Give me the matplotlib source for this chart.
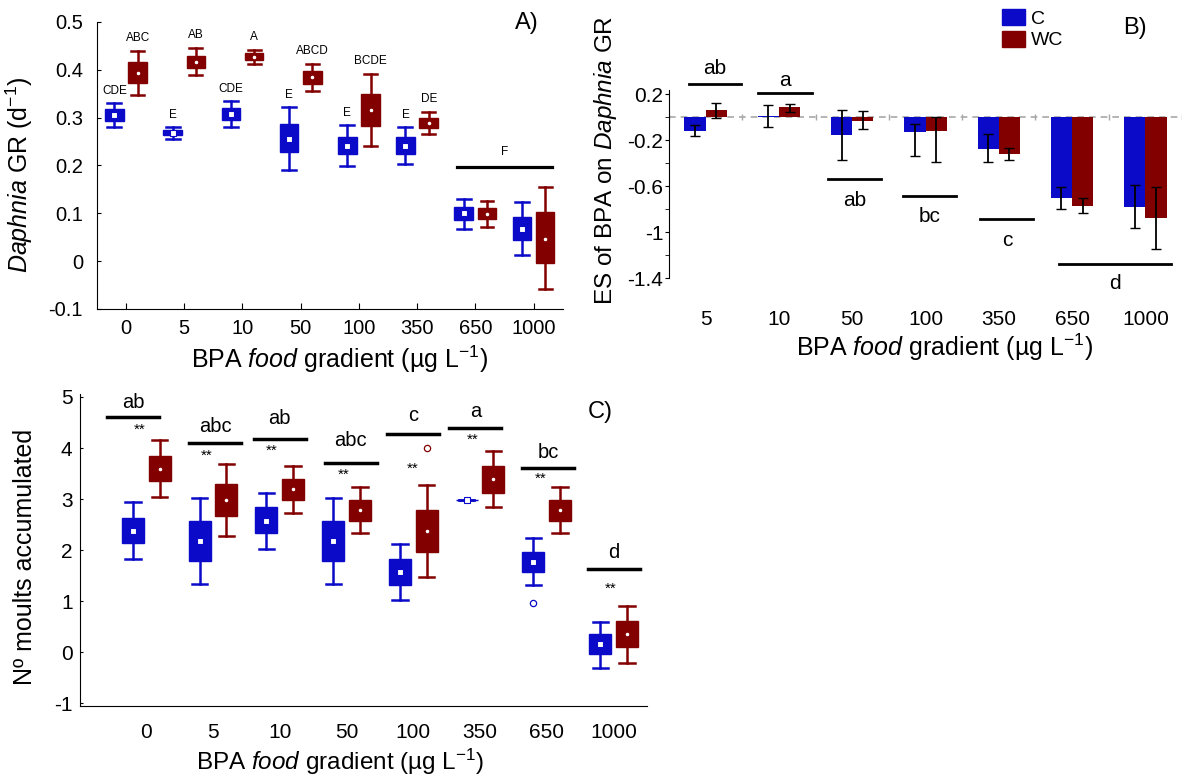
import numpy as np
import matplotlib
matplotlib.use("Agg")
import matplotlib.pyplot as plt
from matplotlib.patches import Patch

plt.rcParams['font.family'] = ['Liberation Sans', 'DejaVu Sans']
plt.rcParams['mathtext.fontset'] = 'custom'
plt.rcParams['mathtext.rm'] = 'Liberation Sans'
plt.rcParams['mathtext.it'] = 'Liberation Sans:italic'
plt.rcParams['axes.unicode_minus'] = False

azul = '#0a0ac8'
rojo = '#820000'

# ─────────────────────────────────────────────
# Datos panel A (tasa de crecimiento)
# ─────────────────────────────────────────────
conc = ['0', '5', '10', '50', '100', '350', '650', '1000']

a_c_media = [0.305, 0.268, 0.307, 0.256, 0.241, 0.240, 0.100, 0.068]
a_c_q1 = [0.293, 0.263, 0.295, 0.228, 0.224, 0.224, 0.085, 0.044]
a_c_q3 = [0.317, 0.274, 0.320, 0.286, 0.260, 0.259, 0.113, 0.093]
a_c_wlo = [0.280, 0.256, 0.280, 0.190, 0.199, 0.203, 0.066, 0.013]
a_c_whi = [0.330, 0.281, 0.335, 0.323, 0.285, 0.280, 0.130, 0.124]

a_wc_media = [0.394, 0.416, 0.427, 0.384, 0.316, 0.288, 0.098, 0.047]
a_wc_q1 = [0.373, 0.403, 0.420, 0.370, 0.282, 0.279, 0.087, -0.005]
a_wc_q3 = [0.416, 0.428, 0.434, 0.397, 0.349, 0.298, 0.110, 0.103]
a_wc_wlo = [0.348, 0.388, 0.412, 0.355, 0.240, 0.265, 0.072, -0.058]
a_wc_whi = [0.440, 0.446, 0.442, 0.412, 0.392, 0.311, 0.125, 0.154]

a_letras_c = ['CDE', 'E', 'CDE', 'E', 'E', 'E', '', '']
a_letras_wc = ['ABC', 'AB', 'A', 'ABCD', 'BCDE', 'DE', '', '']
a_f_x = [5.68, 7.32]
a_f_y = 0.197

# ─────────────────────────────────────────────
# Datos panel B (effect size)
# ─────────────────────────────────────────────
conc_b = ['5', '10', '50', '100', '350', '650', '1000']
b_c = [-0.119, 0.015, -0.154, -0.128, -0.278, -0.699, -0.777]
b_c_hi = [-0.067, 0.104, 0.064, -0.061, -0.148, -0.603, -0.588]
b_c_lo = [-0.162, -0.081, -0.371, -0.336, -0.391, -0.797, -0.957]
b_wc = [0.064, 0.087, -0.029, -0.122, -0.322, -0.768, -0.878]
b_wc_hi = [0.128, 0.119, 0.055, 0.0, -0.264, -0.699, -0.603]
b_wc_lo = [-0.009, 0.049, -0.101, -0.391, -0.368, -0.829, -1.145]

b_letras = ['ab', 'a', 'ab', 'bc', 'c', 'd']
b_linea_x0 = [-0.23, 0.71, 1.675, 2.69, 3.75, 4.82]
b_linea_x1 = [0.48, 1.45, 2.39, 3.41, 4.47, 6.35]
b_linea_y = [0.287, 0.214, -0.539, -0.684, -0.887, -1.27]
b_letra_y = [0.426, 0.325, -0.719, -0.858, -1.072, -1.44]

# ─────────────────────────────────────────────
# Datos panel C (mudas acumuladas)
# ─────────────────────────────────────────────
c_c_media = [2.38, 2.18, 2.57, 2.18, 1.57, 2.98, 1.77, 0.16]
c_c_q1 = [2.14, 1.79, 2.33, 1.79, 1.32, 2.98, 1.57, -0.04]
c_c_q3 = [2.63, 2.57, 2.84, 2.57, 1.82, 2.98, 1.97, 0.36]
c_c_wlo = [1.83, 1.33, 2.03, 1.33, 1.02, 2.98, 1.31, -0.30]
c_c_whi = [2.95, 3.02, 3.13, 3.02, 2.13, 2.98, 2.23, 0.60]
c_c_out = [[], [], [], [], [], [], [0.97], []]

c_wc_media = [3.59, 2.98, 3.19, 2.78, 2.38, 3.40, 2.78, 0.36]
c_wc_q1 = [3.35, 2.67, 2.98, 2.58, 1.97, 3.13, 2.58, 0.11]
c_wc_q3 = [3.84, 3.30, 3.40, 2.99, 2.78, 3.64, 2.99, 0.61]
c_wc_wlo = [3.04, 2.28, 2.73, 2.34, 1.47, 2.84, 2.34, -0.20]
c_wc_whi = [4.15, 3.69, 3.64, 3.24, 3.28, 3.95, 3.24, 0.91]
c_wc_out = [[], [], [], [], [4.0], [], [], []]

c_letras = ['ab', 'abc', 'ab', 'abc', 'c', 'a', 'bc', 'd']
c_letra_x = [-0.2, 1.03, 2.0, 3.06, 4.0, 4.93, 6.02, 7.0]
c_letra_y = [4.90, 4.43, 4.58, 4.14, 4.63, 4.71, 3.92, 1.95]
c_linea_y = [4.61, 4.10, 4.18, 3.71, 4.28, 4.40, 3.60, 1.63]
c_est_x = [-0.1, 0.90, 1.88, 2.95, 3.99, 4.89, 5.91, 6.96]
c_est_y = [4.35, 3.84, 3.94, 3.48, 3.60, 4.17, 3.40, 1.25]


def cajas(ax, pos, media, q1, q3, wlo, whi, outs, color, marca, ms, ancho, capw):
    stats = []
    for i in range(len(pos)):
        stats.append(dict(med=media[i], q1=q1[i], q3=q3[i], whislo=wlo[i],
                          whishi=whi[i], mean=media[i], fliers=outs[i]))
    ax.bxp(stats, positions=pos, widths=ancho, capwidths=capw, patch_artist=True,
           showmeans=True, manage_ticks=False,
           boxprops=dict(facecolor=color, edgecolor=color, linewidth=1),
           whiskerprops=dict(color=color, linewidth=1.8),
           capprops=dict(color=color, linewidth=1.8),
           medianprops=dict(color=color, linewidth=0),
           meanprops=dict(marker=marca, markerfacecolor='white', markeredgecolor=color,
                          markeredgewidth=0.8, markersize=ms),
           flierprops=dict(marker='o', markerfacecolor='none', markeredgecolor=color,
                           markersize=4.5, markeredgewidth=0.9))


fig = plt.figure(figsize=(11.82, 7.8), dpi=100)
axA = fig.add_axes([0.082, 0.604, 0.394, 0.368])
axB = fig.add_axes([0.566, 0.643, 0.434, 0.2414])
axC = fig.add_axes([0.0673, 0.0949, 0.480, 0.3994])

# ───────────── Panel A ─────────────
x = np.arange(len(conc))
sin = [[] for _ in conc]
cajas(axA, x - 0.2, a_c_media, a_c_q1, a_c_q3, a_c_wlo, a_c_whi, sin, azul, 's', 4.5, 0.32, 0.24)
cajas(axA, x + 0.2, a_wc_media, a_wc_q1, a_wc_q3, a_wc_wlo, a_wc_whi, sin, rojo, 'o', 3.4, 0.32, 0.22)
for i in range(len(conc)):
    if a_letras_c[i]:
        axA.text(x[i] - 0.2, a_c_whi[i] + 0.025, a_letras_c[i], ha='center', va='center', fontsize=8.5)
    if a_letras_wc[i]:
        axA.text(x[i] + 0.2, a_wc_whi[i] + 0.027, a_letras_wc[i], ha='center', va='center', fontsize=8.5)
axA.plot(a_f_x, [a_f_y, a_f_y], color='black', lw=2.3)
axA.text(np.mean(a_f_x), a_f_y + 0.03, 'F', ha='center', va='center', fontsize=8.5)

axA.set_xlim(-0.5, 7.5)
axA.set_ylim(-0.1, 0.5)
axA.set_xticks(x)
axA.set_xticklabels(conc)
a_yt = [-0.1, 0, 0.1, 0.2, 0.3, 0.4, 0.5]
axA.set_yticks(a_yt)
axA.set_yticklabels([f'{v:g}' for v in a_yt])
axA.tick_params(axis='x', direction='in', length=4, pad=7, labelsize=14.5)
axA.tick_params(axis='y', direction='in', length=3, pad=10, labelsize=14.5)
axA.spines['top'].set_visible(False)
axA.spines['right'].set_visible(False)
axA.set_ylabel(r'$\it{Daphnia}$ GR (d$^{-1}$)', fontsize=18)
axA.yaxis.set_label_coords(-0.133, 0.466)
axA.set_xlabel(r'BPA $\it{food}$ gradient (µg L$^{-1}$)', fontsize=18)
axA.xaxis.set_label_coords(0.52, -0.12)
fig.text(527 / 1182, 1 - 23 / 780, 'A)', ha='center', va='center', fontsize=17)

# ───────────── Panel B ─────────────
xb = np.arange(len(conc_b))
w = 0.29
b_c_arr = np.array(b_c)
b_wc_arr = np.array(b_wc)
err_c = [b_c_arr - np.array(b_c_lo), np.array(b_c_hi) - b_c_arr]
err_wc = [b_wc_arr - np.array(b_wc_lo), np.array(b_wc_hi) - b_wc_arr]
axB.axhline(0, color='#a8a8a8', lw=1.2, ls=(0, (4, 3)), zorder=1)
axB.plot(np.arange(len(conc_b) + 1) - 0.5, np.zeros(len(conc_b) + 1), ls='none',
         marker='|', color='#a8a8a8', ms=5, zorder=1)
axB.bar(xb - w / 2, b_c, w, color=azul, zorder=2)
axB.bar(xb + w / 2, b_wc, w, color=rojo, zorder=2)
axB.errorbar(xb - w / 2, b_c, yerr=err_c, fmt='none', ecolor='black', elinewidth=1.3, capsize=3.5, zorder=3)
axB.errorbar(xb + w / 2, b_wc, yerr=err_wc, fmt='none', ecolor='black', elinewidth=1.3, capsize=3.5, zorder=3)
for i in range(len(b_letras)):
    axB.plot([b_linea_x0[i], b_linea_x1[i]], [b_linea_y[i], b_linea_y[i]], color='black', lw=2, clip_on=False)
    axB.text((b_linea_x0[i] + b_linea_x1[i]) / 2, b_letra_y[i], b_letras[i], ha='center', va='center',
             fontsize=15, clip_on=False)

axB.set_xlim(-0.5, 6.5)
axB.set_ylim(-1.4, 0.237)
axB.set_xticks(xb)
axB.set_xticklabels(conc_b)
b_yt = [0.2, -0.2, -0.6, -1, -1.4]
axB.set_yticks(b_yt)
axB.set_yticklabels([f'{v:g}' for v in b_yt])
axB.set_yticks([0, -0.4, -0.8, -1.2], minor=True)
axB.tick_params(axis='x', length=0, pad=23, labelsize=15)
axB.tick_params(axis='y', which='both', direction='out', length=3, pad=1, labelsize=15)
for s in ['top', 'right', 'bottom']:
    axB.spines[s].set_visible(False)
axB.set_ylabel(r'ES of BPA on $\it{Daphnia}$ GR', fontsize=17.5)
axB.yaxis.set_label_coords(-0.097, 0.628)
axB.set_xlabel(r'BPA $\it{food}$ gradient (µg L$^{-1}$)', fontsize=18)
axB.xaxis.set_label_coords(0.538, -0.28)
fig.text(1135 / 1182, 1 - 28 / 780, 'B)', ha='center', va='center', fontsize=17)
fig.legend(handles=[Patch(color=azul, label='C'), Patch(color=rojo, label='WC')],
           loc='upper left', bbox_to_anchor=(1002 / 1182, 1 - 9 / 780), frameon=False,
           fontsize=14, handlelength=1.2, handleheight=0.9, handletextpad=0.3,
           labelspacing=0.15, borderpad=0, borderaxespad=0)

# ───────────── Panel C ─────────────
cajas(axC, x - 0.2, c_c_media, c_c_q1, c_c_q3, c_c_wlo, c_c_whi, c_c_out, azul, 's', 4.5, 0.33, 0.23)
cajas(axC, x + 0.2, c_wc_media, c_wc_q1, c_wc_q3, c_wc_wlo, c_wc_whi, c_wc_out, rojo, 'o', 3.4, 0.33, 0.23)
for i in range(len(c_letras)):
    axC.plot([c_letra_x[i] - 0.39, c_letra_x[i] + 0.39], [c_linea_y[i], c_linea_y[i]], color='black', lw=2.5)
    axC.text(c_letra_x[i], c_letra_y[i], c_letras[i], ha='center', va='center', fontsize=14.5)
    axC.text(c_est_x[i], c_est_y[i], '**', ha='center', va='center', fontsize=11)

axC.set_xlim(-1.0, 7.5)
axC.set_ylim(-1.05, 5.05)
axC.set_xticks(x)
axC.set_xticklabels(conc)
axC.set_yticks(range(-1, 6))
axC.tick_params(axis='x', length=0, pad=12, labelsize=15)
axC.tick_params(axis='y', direction='in', length=2, pad=5, labelsize=15)
axC.spines['top'].set_visible(False)
axC.spines['right'].set_visible(False)
axC.set_ylabel('Nº moults accumulated', fontsize=18)
axC.yaxis.set_label_coords(-0.075, 0.477)
axC.set_xlabel(r'BPA $\it{food}$ gradient (µg L$^{-1}$)', fontsize=17.5)
axC.xaxis.set_label_coords(0.459, -0.13)
fig.text(600 / 1182, 1 - 412 / 780, 'C)', ha='center', va='center', fontsize=17)

fig.savefig('out.png', dpi=100)
